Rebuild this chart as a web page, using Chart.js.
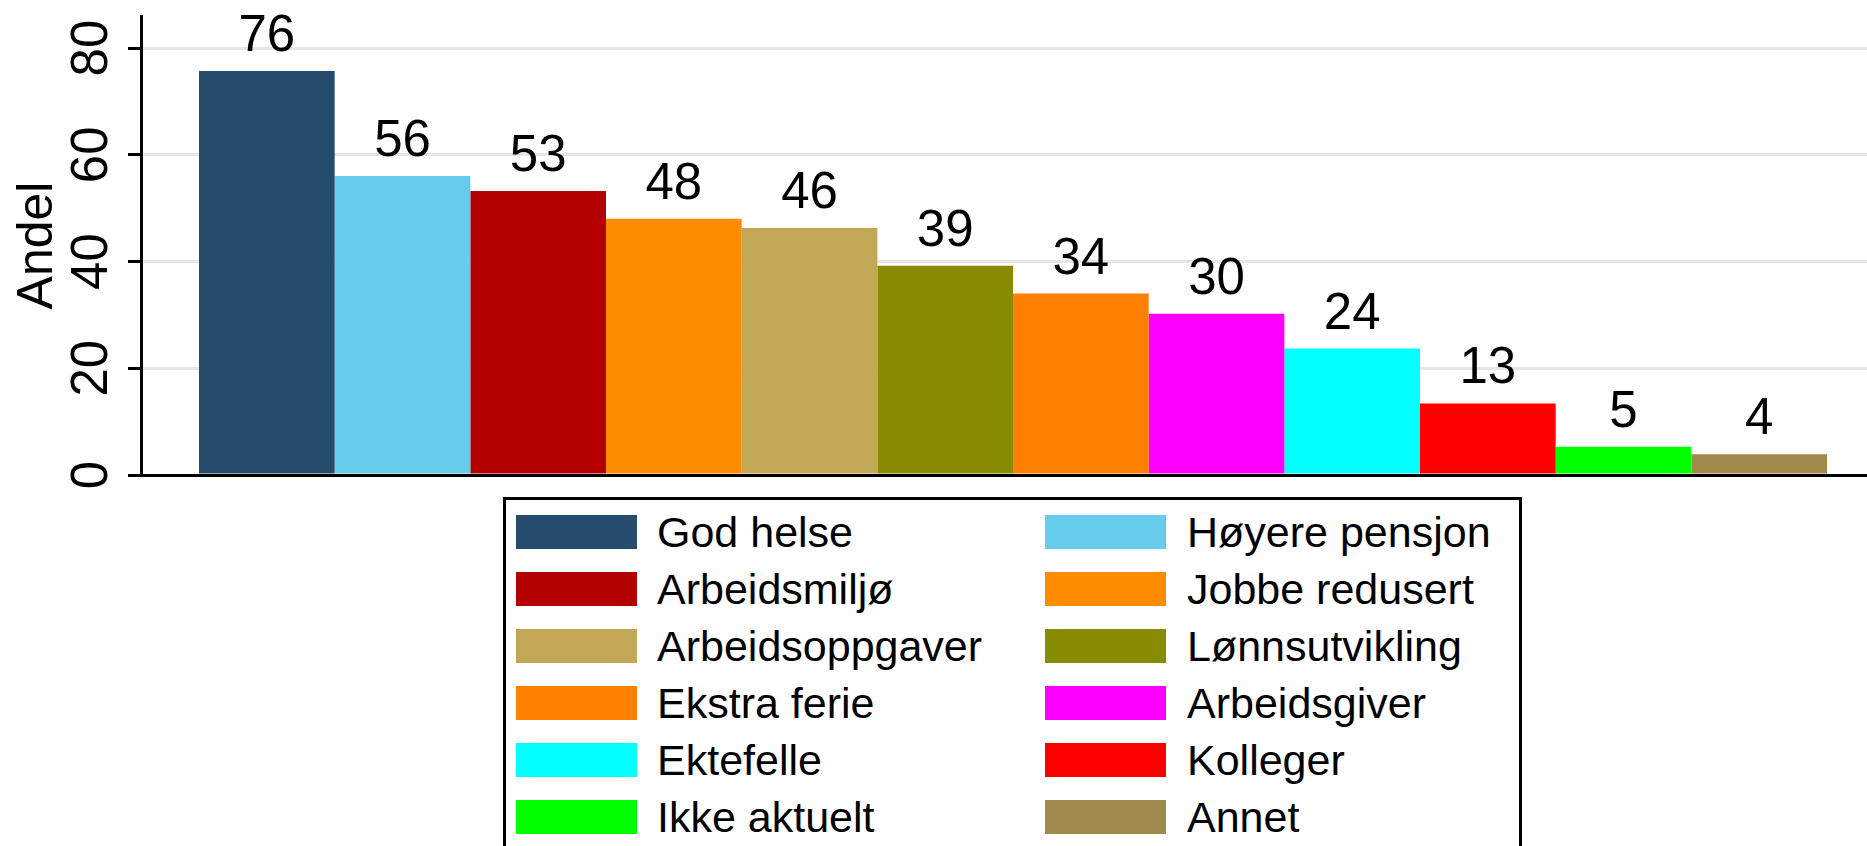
<!DOCTYPE html>
<html>
<head>
<meta charset="utf-8">
<script src="https://cdn.jsdelivr.net/npm/chart.js@4/dist/chart.umd.min.js"></script>
<style>
  html, body { margin: 0; padding: 0; background: #fff; width: 1867px; height: 846px; overflow: hidden; }
  #wrap { position: absolute; left: 0; top: 0; width: 1885px; height: 510px; }
  #legend { position: absolute; left: 503px; top: 497px; width: 1013px; height: 400px;
            border: 3px solid #000; background: #fff; font-family: "Liberation Sans", Arial, sans-serif; }
  .sw { position: absolute; width: 121px; height: 34px; }
  .tx { position: absolute; font-size: 43px; line-height: 34px; height: 34px; white-space: nowrap; color: #000; }
</style>
</head>
<body>
<div id="wrap"><canvas id="c" width="1885" height="510"></canvas></div>
<div id="legend"></div>
<script>
const categories = ["God helse", "Høyere pensjon", "Arbeidsmiljø", "Jobbe redusert", "Arbeidsoppgaver",
  "Lønnsutvikling", "Ekstra ferie", "Arbeidsgiver", "Ektefelle", "Kolleger", "Ikke aktuelt", "Annet"];
const values = [75.7, 56.0, 53.2, 48.0, 46.3, 39.2, 34.0, 30.2, 23.7, 13.4, 5.3, 3.9];
const colors = ["#264c6d", "#67cbeb", "#b40000", "#ff8c00", "#c2a756", "#878c00",
  "#ff7f00", "#ff00ff", "#00ffff", "#ff0000", "#00ff00", "#9f8a4b"];
const yTicks = [0, 20, 40, 60, 80];
const yTitle = "Andel";

const FONT = '"Liberation Sans", Arial, sans-serif';

const datasets = categories.map((name, i) => ({
  label: name,
  data: [values[i]],
  backgroundColor: colors[i],
  borderWidth: 0,
  barPercentage: 1,
  categoryPercentage: 0.9335
}));

const annotate = {
  id: 'annotate',
  afterDraw(chart) {
    const ctx = chart.ctx;
    const y = chart.scales.y;
    ctx.save();
    ctx.fillStyle = '#000';
    ctx.font = '51px ' + FONT;
    // rotated y tick labels
    yTicks.forEach(v => {
      const py = y.getPixelForValue(v);
      ctx.save();
      ctx.translate(107, py);
      ctx.rotate(-Math.PI / 2);
      ctx.textAlign = 'center';
      ctx.textBaseline = 'alphabetic';
      ctx.fillText(String(v), 0, 0);
      ctx.restore();
    });
    // y title
    ctx.save();
    ctx.font = '50px ' + FONT;
    ctx.translate(52, (chart.chartArea.top + chart.chartArea.bottom) / 2);
    ctx.rotate(-Math.PI / 2);
    ctx.textAlign = 'center';
    ctx.textBaseline = 'alphabetic';
    ctx.fillText(yTitle, 0, 0);
    ctx.restore();
    // value labels
    ctx.font = '51px ' + FONT;
    ctx.textAlign = 'center';
    ctx.textBaseline = 'alphabetic';
    chart.data.datasets.forEach((ds, i) => {
      const el = chart.getDatasetMeta(i).data[0];
      ctx.fillText(String(Math.round(ds.data[0])), el.x, el.y - 20);
    });
    ctx.restore();
  }
};

new Chart(document.getElementById('c'), {
  type: 'bar',
  data: { labels: [''], datasets },
  options: {
    responsive: false,
    animation: false,
    layout: { padding: { top: 16, right: 0, bottom: 35, left: 0 } },
    plugins: { legend: { display: false }, tooltip: { enabled: false } },
    scales: {
      x: {
        z: 1,
        ticks: { display: false },
        grid: { display: false, drawTicks: false },
        border: { display: true, color: '#000', width: 3 }
      },
      y: {
        min: 0, max: 86,
        afterBuildTicks: s => { s.ticks = yTicks.map(v => ({ value: v })); },
        afterFit: s => { s.width = 141; },
        ticks: { display: false },
        grid: { color: '#e6e6e6', lineWidth: 3, drawTicks: true, tickLength: 13, tickColor: '#000', tickWidth: 3 },
        border: { display: true, color: '#000', width: 3 }
      }
    }
  },
  plugins: [annotate]
});

// HTML legend in two columns, built from the data arrays
const legend = document.getElementById('legend');
categories.forEach((name, i) => {
  const col = i % 2, row = Math.floor(i / 2);
  const top = 15 + row * 57;
  const sw = document.createElement('div');
  sw.className = 'sw';
  sw.style.left = (col === 0 ? 10 : 539) + 'px';
  sw.style.top = top + 'px';
  sw.style.background = colors[i];
  legend.appendChild(sw);
  const tx = document.createElement('div');
  tx.className = 'tx';
  tx.style.left = (col === 0 ? 151 : 681) + 'px';
  tx.style.top = top + 'px';
  tx.textContent = name;
  legend.appendChild(tx);
});
</script>
</body>
</html>
